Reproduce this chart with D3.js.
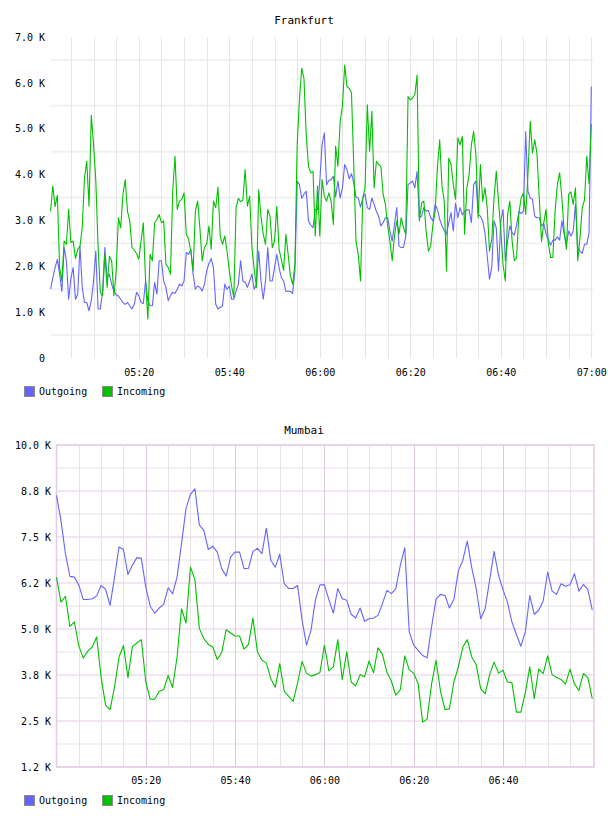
<!DOCTYPE html>
<html><head><meta charset="utf-8">
<script src="https://cdn.jsdelivr.net/npm/d3@7"></script>
<style>
html,body{margin:0;padding:0;background:#fff;}
svg{display:block;font-family:"DejaVu Sans Mono",monospace;}
</style></head>
<body>
<svg id="chart" width="608" height="816"></svg>
<script>
// ---------------- DATA ----------------
const seriesNames = ["Outgoing", "Incoming"];
const seriesColors = ["#6464ff", "#00c000"];

// Frankfurt: values in K, every 30 s starting at 05:00:30
const frankfurtOutgoing = [
1.50,1.75,1.97,2.15,1.83,1.45,2.41,2.12,1.28,1.74,
1.97,1.28,1.39,2.44,1.54,1.21,1.21,1.03,1.25,1.68,
2.33,1.07,1.07,1.46,2.41,1.75,1.83,1.61,1.46,1.38,
1.35,1.28,1.21,1.17,1.21,1.14,1.07,1.17,1.43,1.36,
1.21,1.19,1.68,1.25,1.14,1.14,1.65,1.39,2.12,2.12,
1.68,1.54,1.25,1.36,1.43,1.41,1.50,1.61,1.57,1.68,
2.30,2.26,2.37,1.83,1.50,1.57,1.54,1.46,1.61,1.90,
2.06,2.17,1.97,1.17,1.07,1.10,1.14,1.61,1.50,1.57,
1.28,1.28,1.46,1.61,2.12,1.68,1.65,1.54,1.68,1.83,
1.50,1.61,2.33,1.68,1.28,1.68,2.41,1.68,1.68,1.97,
2.26,1.97,1.75,1.68,1.45,1.46,1.45,1.41,1.90,3.86,
3.78,3.48,3.57,3.64,2.99,2.90,2.84,3.24,3.24,3.86,
4.65,4.91,3.78,3.87,3.89,3.96,3.51,3.86,3.49,3.71,
4.22,4.11,3.91,4.02,3.82,3.51,3.49,3.29,3.49,3.57,
3.28,3.24,3.49,3.35,3.20,3.09,2.88,2.95,3.06,3.06,
2.77,2.55,2.91,3.28,2.44,2.41,2.41,2.66,3.78,3.82,
3.86,3.71,4.07,3.06,3.09,3.28,3.20,3.22,3.06,2.99,
3.35,3.24,3.02,2.88,2.78,2.70,2.95,3.17,2.77,3.38,
3.06,3.28,3.12,3.20,3.23,3.23,2.95,3.78,3.86,3.13,
3.09,2.99,2.73,2.22,1.72,1.97,2.99,2.84,1.90,2.99,
3.24,2.12,2.55,2.88,2.73,2.68,2.91,3.19,3.15,3.20,
4.94,3.64,3.49,3.46,3.09,3.06,3.06,2.88,2.93,2.70,
2.59,2.46,2.57,2.57,2.64,2.57,2.99,2.70,2.48,2.77,
2.66,2.77,3.35,2.42,2.33,2.28,2.48,2.48,2.73,5.92
];
const frankfurtIncoming = [
3.20,3.75,3.30,3.55,1.97,1.68,2.55,2.48,3.24,2.52,
2.55,2.17,2.37,2.44,2.84,3.93,4.29,3.31,5.29,4.65,
3.87,2.44,1.43,1.36,2.26,1.54,2.22,2.12,1.36,1.90,
3.06,2.84,3.57,3.89,3.20,2.99,2.41,2.35,2.28,2.15,
2.55,2.95,1.68,0.85,2.26,2.12,2.95,3.02,3.13,2.95,
2.99,2.04,1.97,1.83,3.64,4.40,3.24,3.42,3.46,3.60,
2.70,2.59,2.33,1.90,3.20,3.42,2.84,2.12,2.41,2.48,
2.88,2.37,3.42,3.28,3.73,2.64,2.48,2.66,2.33,1.90,
1.57,1.32,3.28,3.48,3.41,3.44,4.11,3.31,3.53,2.41,
1.93,1.54,3.67,3.09,2.70,2.48,3.24,3.09,2.41,2.55,
3.31,2.37,2.15,1.91,2.70,2.26,1.79,1.61,2.04,4.65,
5.63,6.32,6.10,4.87,4.18,4.04,4.07,2.66,3.75,2.66,
3.89,3.53,3.42,3.60,3.42,2.91,4.62,4.18,5.16,5.49,
6.39,5.92,5.88,5.78,4.22,2.55,2.26,1.68,3.49,3.71,
5.52,4.51,5.38,3.71,4.29,4.22,4.18,3.57,3.35,2.88,
2.55,2.12,2.66,2.99,2.70,3.06,2.84,2.70,5.70,5.63,
5.67,5.74,6.17,2.99,3.38,3.42,2.77,2.33,2.44,2.91,
3.20,4.18,4.76,3.75,3.42,1.90,4.36,4.22,3.78,3.46,
4.80,4.65,4.83,2.70,3.71,4.00,4.65,4.94,4.43,3.06,
4.22,3.42,3.71,3.28,2.33,2.59,3.49,4.07,3.42,2.78,
2.04,1.68,3.13,3.42,2.55,2.12,2.19,3.17,3.49,3.60,
3.13,4.00,5.16,4.47,4.76,4.45,3.49,2.54,2.95,3.24,
2.51,2.19,2.19,3.20,3.78,4.04,3.49,2.77,2.37,3.57,
3.62,3.35,3.71,2.12,2.62,3.28,3.45,4.40,3.80,5.10
];

// Mumbai: values in K, every minute starting at 05:00
const mumbaiOutgoing = [
8.63,7.95,7.05,6.43,6.41,6.19,5.80,5.80,5.82,5.90,
6.18,6.08,5.64,6.41,7.23,7.16,6.48,6.73,6.94,6.92,
6.14,5.62,5.43,5.57,5.67,6.12,5.96,6.41,7.32,8.27,
8.66,8.81,7.82,7.68,7.16,7.25,7.09,6.64,6.44,6.96,
7.09,7.09,6.64,6.65,7.11,7.19,7.05,7.74,6.87,6.68,
7.03,6.23,6.10,6.10,6.18,5.24,4.56,4.97,5.80,6.20,
6.20,5.80,5.43,6.10,5.82,5.78,5.40,5.30,5.57,5.21,
5.28,5.30,5.37,5.69,6.05,5.96,6.10,6.73,7.21,4.92,
4.56,4.42,4.28,4.22,5.05,5.81,5.94,5.91,5.57,5.81,
6.58,6.87,7.39,6.67,6.10,5.28,5.55,6.32,7.11,6.46,
6.07,5.73,5.19,4.85,4.53,4.92,5.91,5.40,5.51,5.76,
6.55,6.03,5.94,6.23,6.16,6.20,6.50,6.03,6.21,6.07,
5.51
];
const mumbaiIncoming = [
6.41,5.73,5.89,5.07,5.19,4.54,4.21,4.40,4.51,4.78,
3.68,2.93,2.81,3.42,4.24,4.55,3.68,4.52,4.62,4.71,
3.56,3.09,3.09,3.31,3.35,3.74,3.41,4.24,5.55,5.16,
6.68,6.34,5.01,4.74,4.58,4.51,4.17,4.36,4.98,4.89,
4.81,4.81,4.45,4.58,5.30,4.38,4.15,4.08,3.65,3.42,
4.06,3.31,3.17,3.03,3.54,4.12,3.80,3.72,3.76,3.82,
4.56,3.86,3.97,4.71,3.62,4.38,3.56,3.45,3.76,3.70,
4.13,3.81,4.49,4.31,3.83,3.58,3.20,3.35,4.27,3.89,
3.80,3.51,2.47,2.55,3.51,4.15,3.31,2.81,2.83,3.56,
3.97,4.51,4.71,4.24,4.03,3.38,3.24,3.76,4.10,3.80,
3.88,3.56,3.54,2.74,2.74,3.27,3.97,3.11,3.91,3.79,
4.27,3.76,3.68,3.63,3.50,3.91,3.51,3.33,3.79,3.68,
3.11
];

const frankfurtYTicks = [0, 1, 2, 3, 4, 5, 6, 7];
const frankfurtYLabels = ["0", "1.0 K", "2.0 K", "3.0 K", "4.0 K", "5.0 K", "6.0 K", "7.0 K"];
const mumbaiYTicks = [1.25, 2.5, 3.75, 5, 6.25, 7.5, 8.75, 10];
const mumbaiYLabels = ["1.2 K", "2.5 K", "3.8 K", "5.0 K", "6.2 K", "7.5 K", "8.8 K", "10.0 K"];
const frankfurtXLabels = ["05:20", "05:40", "06:00", "06:20", "06:40", "07:00"];
const mumbaiXLabels = ["05:20", "05:40", "06:00", "06:20", "06:40"];

// ---------------- HELPERS ----------------
const svg = d3.select("#chart");
const parse = d3.timeParse("%H:%M");
const t0 = parse("05:00"), t1 = parse("07:00");
const fTimes = frankfurtOutgoing.map((_, i) => d3.timeSecond.offset(t0, (i + 1) * 30));
const mTimes = mumbaiOutgoing.map((_, i) => d3.timeMinute.offset(t0, i));
const fiveMin = d3.timeMinute.every(5).range(d3.timeMinute.offset(t0, 5), d3.timeMinute.offset(t1, 1));

function drawLegend(y) {
  const g = svg.append("g").attr("transform", `translate(24,${y})`);
  const xs = [0, 78];
  seriesNames.forEach((n, i) => {
    g.append("rect").attr("x", xs[i] + 0.5).attr("y", 0.5).attr("width", 10).attr("height", 10)
      .attr("fill", seriesColors[i]).attr("stroke", "#8a8a8a").attr("stroke-width", 1);
    g.append("text").attr("x", xs[i] + 15).attr("y", 9).attr("font-size", 10)
      .attr("fill", "#000").text(n);
  });
}

function drawLines(g, x, y, times, seriesList) {
  seriesList.forEach((vals, i) => {
    const line = d3.line().x((d, j) => x(times[j])).y(d => y(d));
    g.append("path").datum(vals).attr("d", line).attr("fill", "none")
      .attr("stroke", seriesColors[i]).attr("stroke-width", 1.1).attr("stroke-linejoin", "round");
  });
}

// ---------------- FRANKFURT ----------------
{
  const x = d3.scaleTime().domain([t0, t1]).range([48.3, 591.3]);
  const y = d3.scaleLinear().domain([0, 7]).range([358, 37]);
  const g = svg.append("g");
  svg.append("text").attr("x", 304).attr("y", 24).attr("text-anchor", "middle")
    .attr("font-size", 11).text("Frankfurt");
  d3.range(0.5, 7, 1).forEach(v => {
    g.append("line").attr("x1", 51).attr("x2", 593).attr("y1", y(v)).attr("y2", y(v))
      .attr("stroke", "#f0f0f0").attr("stroke-width", 2);
  });
  fiveMin.forEach(t => {
    g.append("line").attr("x1", Math.round(x(t)) + 0.5).attr("x2", Math.round(x(t)) + 0.5)
      .attr("y1", 37).attr("y2", 358).attr("stroke", "#e6e6e6").attr("stroke-width", 1);
  });
  const ya = d3.axisLeft(y).tickValues(frankfurtYTicks).tickSize(0)
    .tickFormat((d, i) => frankfurtYLabels[i]);
  const yg = svg.append("g").attr("transform", "translate(45,0)").call(ya);
  yg.select(".domain").remove();
  yg.selectAll("text").attr("x", 0).attr("font-family", "DejaVu Sans Mono").attr("font-size", 10).attr("fill", "#000");
  const xa = d3.axisBottom(x).tickValues(frankfurtXLabels.map(parse)).tickSize(0)
    .tickFormat((d, i) => frankfurtXLabels[i]);
  const xg = svg.append("g").attr("transform", "translate(0,369)").call(xa);
  xg.select(".domain").remove();
  xg.selectAll("text").attr("y", 0).attr("dy", "0.71em").attr("font-family", "DejaVu Sans Mono").attr("font-size", 10).attr("fill", "#000");
  drawLines(g, x, y, fTimes, [frankfurtOutgoing, frankfurtIncoming]);
  drawLegend(386);
}

// ---------------- MUMBAI ----------------
{
  const x = d3.scaleTime().domain([t0, t1]).range([56.5, 592.3]);
  const y = d3.scaleLinear().domain([1.25, 10]).range([767, 445]);
  const g = svg.append("g");
  svg.append("text").attr("x", 304).attr("y", 434).attr("text-anchor", "middle")
    .attr("font-size", 11).text("Mumbai");
  mumbaiYTicks.slice(0, -1).forEach(v => {
    const yy = y(v + 0.625);
    g.append("line").attr("x1", 57).attr("x2", 594).attr("y1", yy).attr("y2", yy)
      .attr("stroke", "#f2f0f2").attr("stroke-width", 2);
  });
  mumbaiYTicks.forEach(v => {
    g.append("line").attr("x1", 57).attr("x2", 594).attr("y1", y(v)).attr("y2", y(v))
      .attr("stroke", "#f2e4f2").attr("stroke-width", 2);
  });
  const majors = mumbaiXLabels.map(parse).map(d => +d);
  fiveMin.filter(t => +t < +t1).forEach(t => {
    const major = majors.includes(+t);
    g.append("line").attr("x1", Math.round(x(t)) + 0.5).attr("x2", Math.round(x(t)) + 0.5)
      .attr("y1", 445).attr("y2", 767).attr("stroke", major ? "#dcc8dc" : "#e6e2e6").attr("stroke-width", 1);
  });
  g.append("rect").attr("x", 56.5).attr("y", 445).attr("width", 537.5).attr("height", 322)
    .attr("fill", "none").attr("stroke", "#e4cce4").attr("stroke-width", 1.5);
  const ya = d3.axisLeft(y).tickValues(mumbaiYTicks).tickSize(0)
    .tickFormat((d, i) => mumbaiYLabels[i]);
  const yg = svg.append("g").attr("transform", "translate(51,0)").call(ya);
  yg.select(".domain").remove();
  yg.selectAll("text").attr("x", 0).attr("font-family", "DejaVu Sans Mono").attr("font-size", 10).attr("fill", "#000");
  const xa = d3.axisBottom(x).tickValues(mumbaiXLabels.map(parse)).tickSize(0)
    .tickFormat((d, i) => mumbaiXLabels[i]);
  const xg = svg.append("g").attr("transform", "translate(0,777)").call(xa);
  xg.select(".domain").remove();
  xg.selectAll("text").attr("y", 0).attr("dy", "0.71em").attr("font-family", "DejaVu Sans Mono").attr("font-size", 10).attr("fill", "#000");
  drawLines(g, x, y, mTimes, [mumbaiOutgoing, mumbaiIncoming]);
  drawLegend(795);
}
</script>
</body></html>
